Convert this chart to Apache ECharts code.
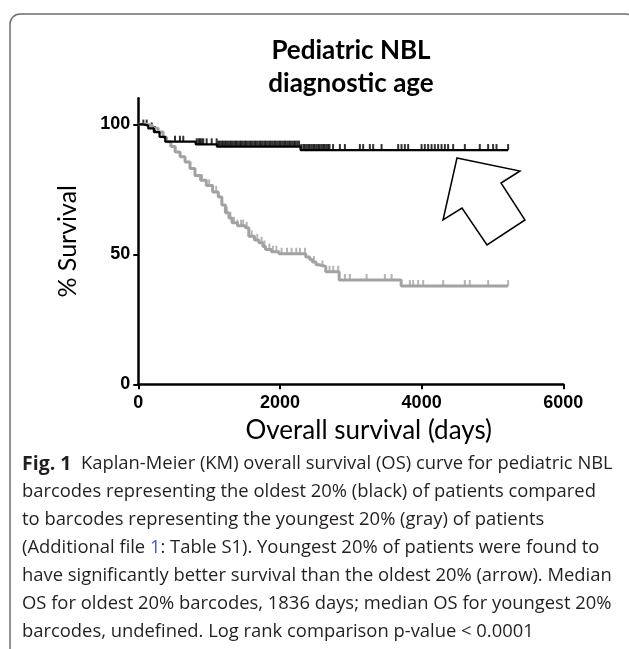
<!DOCTYPE html>
<html>
<head>
<meta charset="utf-8">
<script src="https://cdn.jsdelivr.net/npm/echarts@6/dist/echarts.min.js"></script>
<style>
    html, body { margin: 0; padding: 0; background: #fff; }
    #km-chart { width: 629px; height: 649px; }
</style>
</head>
<body>
<div id="km-chart"></div>
<script>
    // axis ticks
    var xTicks = [0, 2000, 4000, 6000];
    var yTicks = [0, 50, 100];

    // oldest 20% (black): [days, % survival] at each step
    var oldestSteps = [[0, 100], [70, 99.5], [140, 98.4], [220, 97], [300, 95.2], [380, 93.3],
        [810, 92.3], [1110, 91.4], [2290, 90.1], [5221, 90.1]];
    // censored times, oldest
    var oldestCensor = [71, 118, 189, 236, 518, 588, 635, 824, 850, 871, 895, 917, 965, 1036, 1106,
        1130, 1150, 1175, 1195, 1220, 1240, 1265, 1290, 1310, 1335, 1360, 1380, 1405, 1430, 1450,
        1475, 1500, 1520, 1545, 1570, 1590, 1615, 1640, 1660, 1685, 1710, 1730, 1755, 1780, 1800,
        1825, 1850, 1870, 1895, 1920, 1940, 1965, 1990, 2010, 2035, 2060, 2080, 2105, 2130, 2150,
        2175, 2200, 2220, 2245, 2270,
        2300, 2330, 2350, 2375, 2400, 2420, 2445, 2470, 2490, 2515, 2540, 2560, 2585, 2610, 2630,
        2655, 2680, 2700, 2750,
        2846, 2917, 3128, 3175, 3269, 3316, 3434, 3669, 3716, 3763, 3810,
        3999, 4045, 4092, 4140, 4186, 4233, 4281, 4328, 4374, 4445, 4610, 4821, 4939, 5009, 5057, 5221];

    // youngest 20% (gray)
    var youngestSteps = [[0, 100], [120, 99.5], [200, 98.5], [280, 97], [350, 95], [400, 93.3],
        [460, 91.5], [520, 89.3], [590, 87.5], [660, 85.5], [730, 83], [800, 80.3], [880, 78.5],
        [960, 76.5], [1050, 74], [1130, 72], [1180, 69], [1230, 66], [1280, 64], [1323, 62.1],
        [1400, 61], [1513, 60.2], [1560, 56.9], [1640, 55.5], [1702, 54.4], [1760, 53],
        [1796, 51.8], [1880, 51], [1985, 50.2], [2364, 49], [2420, 48], [2458, 47], [2510, 46],
        [2553, 45.3], [2647, 43.3], [2836, 40.1], [3711, 37.8], [5221, 37.8]];
    var youngestCensor = [900, 1000, 1100, 1250, 1300, 1350, 1400, 1450, 1480, 1530, 1600, 1680,
        1740, 1780, 1850, 1900, 1950, 2023, 2100, 2164, 2230, 2282, 2352, 2480, 2600, 2700, 2752, 2822,
        2917, 2987, 3223, 3481, 3576, 3834, 3880, 3951, 4022, 4304, 4610, 4680, 4939, 5221];

    var captionLines = [
        '{b|Fig. 1}  Kaplan-Meier (KM) overall survival (OS) curve for pediatric NBL',
        'barcodes representing the oldest 20% (black) of patients compared',
        'to barcodes representing the youngest 20% (gray) of patients',
        '(Additional file {link|1}: Table S1). Youngest 20% of patients were found to',
        'have significantly better survival than the oldest 20% (arrow). Median',
        'OS for oldest 20% barcodes, 1836 days; median OS for youngest 20%',
        'barcodes, undefined. Log rank comparison p-value < 0.0001'
    ];

    // survival level at time t (step lookup)
    function levelAt(steps, t) {
        var v = steps[0][1];
        for (var i = 0; i < steps.length; i++) {
            if (steps[i][0] <= t) v = steps[i][1];
        }
        return v;
    }

    function censorPoints(steps, times) {
        return times.map(function (t) { return [t, levelAt(steps, t)]; });
    }

    var GRAY = '#a2a2a2';
    var captionFont = '"Open Sans", sans-serif';

    var graphics = [
        {
            type: 'rect', silent: true,
            shape: {x: 10, y: 14, width: 626, height: 680, r: 10},
            style: {fill: 'none', stroke: '#6e6e6e', lineWidth: 1.5}
        },
        {
            type: 'text', silent: true,
            style: {x: 351, y: 51, text: 'Pediatric NBL', textAlign: 'center', textVerticalAlign: 'middle',
                font: 'bold 26px Lato', fill: '#000'}
        },
        {
            type: 'text', silent: true,
            style: {x: 351, y: 84, text: 'diagnostic age', textAlign: 'center', textVerticalAlign: 'middle',
                font: 'bold 26px Lato', fill: '#000'}
        },
        {
            type: 'polygon', silent: true,
            shape: {points: [[457, 158], [520, 171], [501, 183], [525, 220], [487, 245], [462, 208], [443, 220]]},
            style: {fill: '#fff', stroke: '#000', lineWidth: 1.5}
        }
    ];

    captionLines.forEach(function (line, i) {
        graphics.push({
            type: 'text', silent: true,
            style: {
                x: 22, y: 464 + i * 28, text: line, textVerticalAlign: 'middle',
                fontFamily: captionFont, fontSize: 18.4, fill: '#231f20',
                rich: {
                    b: {fontFamily: captionFont, fontSize: 19.5, fontWeight: 'bold', fill: '#231f20'},
                    link: {fontFamily: captionFont, fontSize: 18.4, fill: '#3b5bdb'}
                }
            }
        });
    });

    var chart = echarts.init(document.getElementById('km-chart'), null, {renderer: 'canvas'});

    var option = {
        animation: false,
        backgroundColor: '#fff',
        grid: {left: 138.3, right: 65.7, top: 98.3, bottom: 264.7},
        xAxis: {
            type: 'value', min: xTicks[0], max: xTicks[xTicks.length - 1], interval: 2000,
            splitLine: {show: false},
            axisLine: {lineStyle: {color: '#000', width: 2.5}},
            axisTick: {length: 5, lineStyle: {color: '#000', width: 2}},
            axisLabel: {color: '#000', fontFamily: '"Liberation Sans", Arial', fontWeight: 'bold', fontSize: 18, margin: 10,
                formatter: function (v) { return String(v); }},
            name: 'Overall survival (days)', nameLocation: 'middle', nameGap: 33,
            nameTextStyle: {color: '#000', fontFamily: 'Lato', fontSize: 26, padding: [0, 0, 0, 36]}
        },
        yAxis: {
            type: 'value', min: 0, max: 110,
            splitLine: {show: false},
            axisLine: {show: true, lineStyle: {color: '#000', width: 2.5}},
            axisTick: {show: true, length: 5, customValues: yTicks, lineStyle: {color: '#000', width: 2}},
            axisLabel: {color: '#000', fontFamily: '"Liberation Sans", Arial', fontWeight: 'bold', fontSize: 18,
                margin: 8, customValues: yTicks},
            name: '% Survival', nameLocation: 'middle', nameGap: 58, nameRotate: 90,
            nameTextStyle: {color: '#000', fontFamily: 'Lato', fontSize: 25}
        },
        series: [
            {
                name: 'youngest 20%', type: 'line', step: 'end', showSymbol: false, silent: true,
                lineStyle: {color: GRAY, width: 3}, data: youngestSteps
            },
            {
                name: 'youngest censored', type: 'scatter', silent: true, symbol: 'rect',
                symbolSize: [2, 6], symbolOffset: [0, -3], itemStyle: {color: GRAY},
                data: censorPoints(youngestSteps, youngestCensor)
            },
            {
                name: 'oldest 20%', type: 'line', step: 'end', showSymbol: false, silent: true,
                lineStyle: {color: '#000', width: 2.2}, data: oldestSteps
            },
            {
                name: 'oldest censored', type: 'scatter', silent: true, symbol: 'rect',
                symbolSize: [2, 6], symbolOffset: [0, -3], itemStyle: {color: '#000'},
                data: censorPoints(oldestSteps, oldestCensor)
            }
        ],
        graphic: graphics
    };

    chart.setOption(option);
</script>
</body>
</html>
